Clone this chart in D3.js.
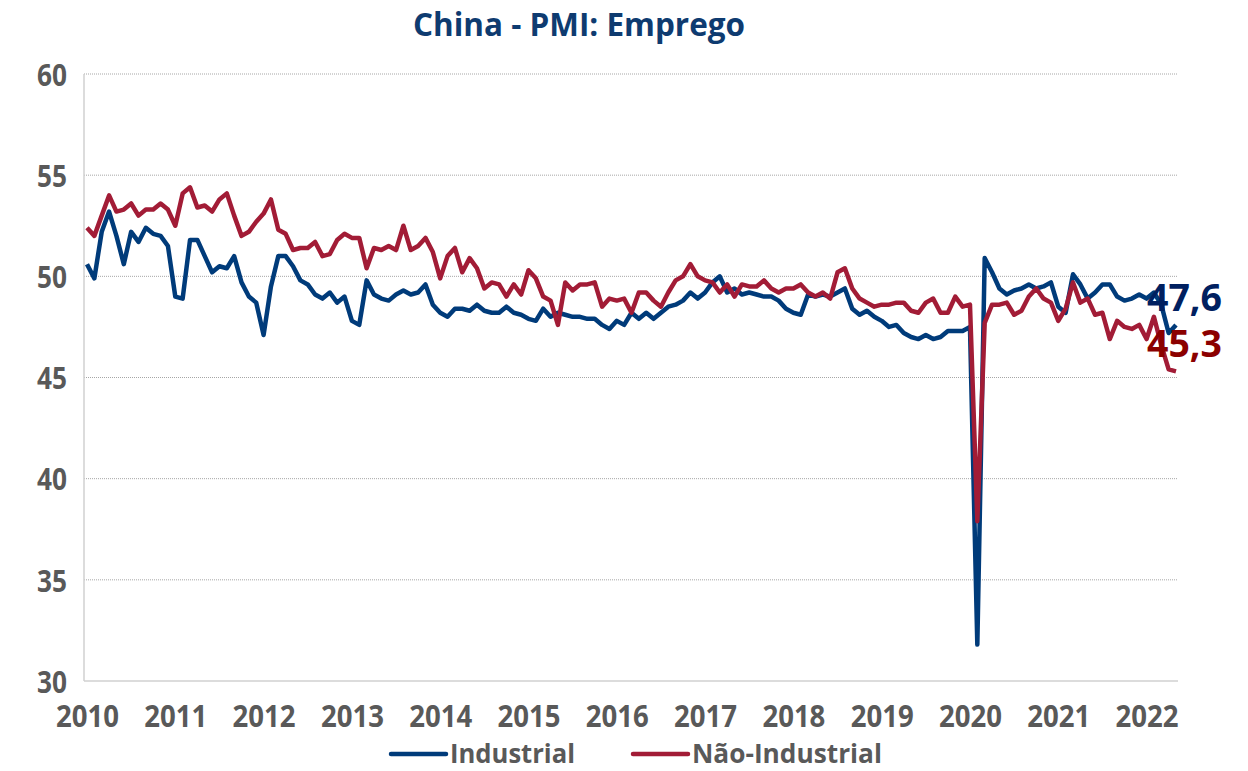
<!DOCTYPE html>
<html>
<head>
<meta charset="utf-8">
<script src="https://cdn.jsdelivr.net/npm/d3@7"></script>
<style>
  body { margin: 0; background: #fff; }
  text { font-family: "Open Sans", sans-serif; font-weight: bold; }
</style>
</head>
<body>
<div id="container"></div>
<script>
// monthly data, Jan 2010 .. May 2022
let years = ["2010", "2011", "2012", "2013", "2014", "2015", "2016", "2017", "2018", "2019", "2020", "2021", "2022"];
let yTicks = [30, 35, 40, 45, 50, 55, 60];
let seriesNames = ["Industrial", "Não-Industrial"];

let industrial = [
    50.6, 49.9, 52.2, 53.2, 52.0, 50.6, 52.2, 51.7, 52.4, 52.1, 52.0, 51.5,
    49.0, 48.9, 51.8, 51.8, 51.0, 50.2, 50.5, 50.4, 51.0, 49.7, 49.0, 48.7,
    47.1, 49.5, 51.0, 51.0, 50.5, 49.8, 49.6, 49.1, 48.9, 49.2, 48.7, 49.0,
    47.8, 47.6, 49.8, 49.1, 48.9, 48.8, 49.1, 49.3, 49.1, 49.2, 49.6, 48.6,
    48.2, 48.0, 48.4, 48.4, 48.3, 48.6, 48.3, 48.2, 48.2, 48.5, 48.2, 48.1,
    47.9, 47.8, 48.4, 48.0, 48.2, 48.1, 48.0, 48.0, 47.9, 47.9, 47.6, 47.4,
    47.8, 47.6, 48.2, 47.9, 48.2, 47.9, 48.2, 48.5, 48.6, 48.8, 49.2, 48.9,
    49.2, 49.7, 50.0, 49.2, 49.4, 49.1, 49.2, 49.1, 49.0, 49.0, 48.8, 48.4,
    48.2, 48.1, 49.1, 49.0, 49.1, 49.0, 49.2, 49.4, 48.4, 48.1, 48.3, 48.0,
    47.8, 47.5, 47.6, 47.2, 47.0, 46.9, 47.1, 46.9, 47.0, 47.3, 47.3, 47.3,
    47.5, 31.8, 50.9, 50.2, 49.4, 49.1, 49.3, 49.4, 49.6, 49.4, 49.5, 49.7,
    48.5, 48.2, 50.1, 49.6, 48.9, 49.2, 49.6, 49.6, 49.0, 48.8, 48.9, 49.1,
    48.9, 49.2, 48.6, 47.2, 47.6
];

let naoIndustrial = [
    52.4, 52.0, 53.0, 54.0, 53.2, 53.3, 53.6, 53.0, 53.3, 53.3, 53.6, 53.3,
    52.5, 54.1, 54.4, 53.4, 53.5, 53.2, 53.8, 54.1, 53.0, 52.0, 52.2, 52.7,
    53.1, 53.8, 52.3, 52.1, 51.3, 51.4, 51.4, 51.7, 51.0, 51.1, 51.8, 52.1,
    51.9, 51.9, 50.4, 51.4, 51.3, 51.5, 51.3, 52.5, 51.3, 51.5, 51.9, 51.2,
    49.9, 51.0, 51.4, 50.2, 50.9, 50.4, 49.4, 49.7, 49.6, 49.0, 49.6, 49.1,
    50.3, 49.9, 49.0, 48.8, 47.6, 49.7, 49.3, 49.6, 49.6, 49.7, 48.5, 48.9,
    48.8, 48.9, 48.2, 49.2, 49.2, 48.8, 48.5, 49.2, 49.8, 50.0, 50.6, 50.0,
    49.8, 49.7, 49.2, 49.6, 49.0, 49.6, 49.5, 49.5, 49.8, 49.4, 49.2, 49.4,
    49.4, 49.6, 49.2, 49.0, 49.2, 48.9, 50.2, 50.4, 49.4, 48.9, 48.7, 48.5,
    48.6, 48.6, 48.7, 48.7, 48.3, 48.2, 48.7, 48.9, 48.2, 48.2, 49.0, 48.5,
    48.6, 37.9, 47.7, 48.6, 48.6, 48.7, 48.1, 48.3, 49.0, 49.4, 48.9, 48.7,
    47.8, 48.4, 49.7, 48.7, 48.9, 48.1, 48.2, 46.9, 47.8, 47.5, 47.4, 47.6,
    46.9, 48.0, 46.6, 45.4, 45.3
];

let colors = ["#003B7A", "#A21C36"];
let labelColors = ["#002060", "#8B0000"];
let grey = "#595959";

let svg = d3.select("#container")
    .append("svg")
    .attr("width", 1248)
    .attr("height", 771);

let x = d3.scaleLinear().domain([0, industrial.length - 1]).range([87, 1176]);
let y = d3.scaleLinear().domain([30, 60]).range([681, 74]);
let left = 84, right = 1178;

// title
svg.append("text")
    .attr("x", 579)
    .attr("y", 36)
    .attr("text-anchor", "middle")
    .attr("fill", "#0E3B70")
    .attr("font-size", 32)
    .attr("textLength", 332)
    .attr("lengthAdjust", "spacingAndGlyphs")
    .text("China - PMI: Emprego");

// dotted gridlines
svg.append("g")
    .selectAll("line")
    .data(yTicks.filter(d => d > 30))
    .enter()
    .append("line")
    .attr("x1", left)
    .attr("x2", right)
    .attr("y1", d => y(d))
    .attr("y2", d => y(d))
    .attr("stroke", "#A6A6A6")
    .attr("stroke-width", 1)
    .attr("stroke-dasharray", "1,1");

// axis lines
svg.append("line")
    .attr("x1", left).attr("x2", left)
    .attr("y1", y(60)).attr("y2", y(30))
    .attr("stroke", "#D0D0D0").attr("stroke-width", 1.5);
svg.append("line")
    .attr("x1", left).attr("x2", right)
    .attr("y1", y(30)).attr("y2", y(30))
    .attr("stroke", "#D0D0D0").attr("stroke-width", 1.5);

// y axis labels
let yAxis = d3.axisLeft(y).tickValues(yTicks).tickSize(0).tickPadding(17);
let gy = svg.append("g").attr("transform", "translate(" + left + ",0)").call(yAxis);
gy.select(".domain").remove();
gy.selectAll("text")
    .attr("fill", grey)
    .attr("font-size", 31)
    .attr("font-family", "Open Sans, sans-serif")
    .attr("textLength", 30)
    .attr("lengthAdjust", "spacingAndGlyphs")
    .attr("dy", "0.36em");

// x axis labels, one per January
let xAxis = d3.axisBottom(x)
    .tickValues(years.map((_, i) => i * 12))
    .tickFormat((d, i) => years[i])
    .tickSize(0)
    .tickPadding(24);
let gx = svg.append("g").attr("transform", "translate(0," + y(30) + ")").call(xAxis);
gx.select(".domain").remove();
gx.selectAll("text")
    .attr("fill", grey)
    .attr("font-size", 31)
    .attr("font-family", "Open Sans, sans-serif")
    .attr("textLength", 63)
    .attr("lengthAdjust", "spacingAndGlyphs");

// lines
let line = d3.line()
    .x((d, i) => x(i))
    .y(d => y(d));
let series = [industrial, naoIndustrial];
svg.append("g")
    .selectAll("path")
    .data(series)
    .enter()
    .append("path")
    .attr("fill", "none")
    .attr("stroke", (_, i) => colors[i])
    .attr("stroke-width", 4.5)
    .attr("stroke-linejoin", "round")
    .attr("d", d => line(d));

// last value labels
svg.append("g")
    .selectAll("text")
    .data(series)
    .enter()
    .append("text")
    .attr("x", d => x(d.length - 1) - 29)
    .attr("y", d => y(d[d.length - 1]) - 14)
    .attr("fill", (_, i) => labelColors[i])
    .attr("font-size", 37)
    .attr("textLength", 75)
    .attr("lengthAdjust", "spacingAndGlyphs")
    .text(d => d[d.length - 1].toFixed(1).replace(".", ","));

// legend
let legendX = [391, 633];
let legendW = [125, 190];
let lg = svg.append("g")
    .selectAll("g")
    .data(seriesNames)
    .enter()
    .append("g")
    .attr("transform", (_, i) => "translate(" + legendX[i] + ",754)");
lg.append("line")
    .attr("x1", 0).attr("x2", 55)
    .attr("stroke", (_, i) => colors[i])
    .attr("stroke-width", 4.5)
    .attr("stroke-linecap", "round");
lg.append("text")
    .attr("x", 59)
    .attr("y", 9)
    .attr("fill", grey)
    .attr("font-size", 27)
    .attr("textLength", (_, i) => legendW[i])
    .attr("lengthAdjust", "spacingAndGlyphs")
    .text(d => d);
</script>
</body>
</html>
